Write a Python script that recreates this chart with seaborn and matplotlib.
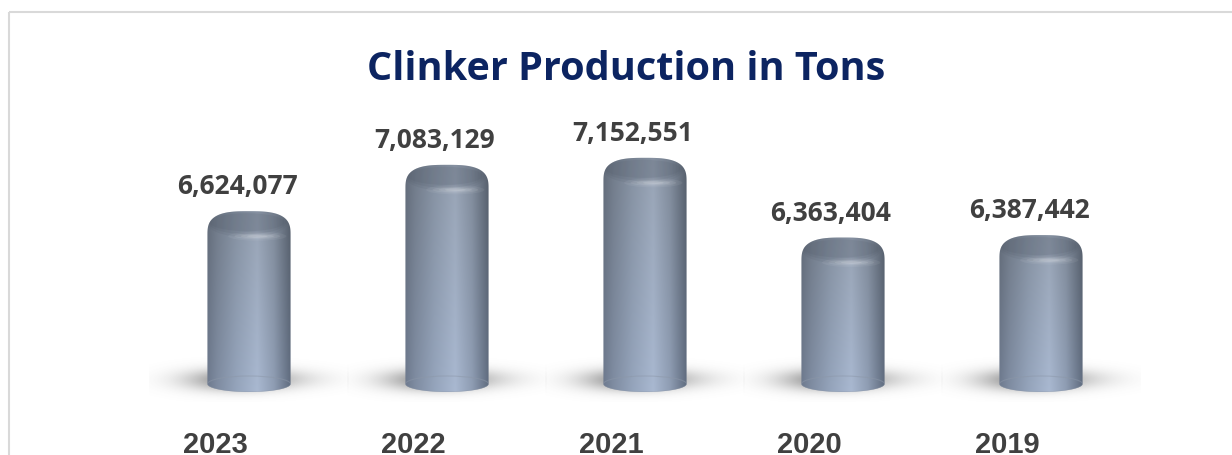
import numpy as np
import matplotlib
matplotlib.use("Agg")
import matplotlib.pyplot as plt
import matplotlib.transforms as mtransforms
from matplotlib.path import Path
from matplotlib.patches import PathPatch, Ellipse
from matplotlib.colors import to_rgb
import seaborn as sns
import pandas as pd

# ---- data ----
years = ["2023", "2022", "2021", "2020", "2019"]
values = [6624077, 7083129, 7152551, 6363404, 6387442]
value_labels = ["6,624,077", "7,083,129", "7,152,551", "6,363,404", "6,387,442"]
title = "Clinker Production in Tons"

W, H = 1232, 456
sns.set_style("white")
plt.rcParams["font.family"] = ["Open Sans", "DejaVu Sans"]

fig = plt.figure(figsize=(W / 100, H / 100), dpi=100)
fig.patch.set_facecolor("white")

# overlay axes in pixel coordinates for the 3D cylinder rendering
ovl = fig.add_axes([0, 0, 1, 1], zorder=0)
ovl.set_xlim(0, W)
ovl.set_ylim(0, H)
ovl.axis("off")

# main seaborn axes
ax = fig.add_axes([150 / W, 63 / H, 990 / W, 280 / H], zorder=1)
ax.patch.set_alpha(0)
df = pd.DataFrame({"year": years, "value": values})
sns.barplot(data=df, x="year", y="value", order=years, ax=ax, width=0.42,
            color="#8d99aa")
y0 = 4.834e6
ax.set_ylim(y0, y0 + 280 / 101e-6)
ax.set_xlim(-0.5, len(years) - 0.5)
ax.axis("off")

# border
ovl.plot([9, 9], [0, H - 13], color="#d9d9d9", lw=1.5, solid_capstyle="butt")
ovl.plot([9, W], [H - 13, H - 13], color="#d9d9d9", lw=1.5, solid_capstyle="butt")


def grad_profile(n):
    stops = [0.0, 0.12, 0.35, 0.6, 0.8, 1.0]
    cols = ["#6e7887", "#7f8a9a", "#95a2b4", "#a9b6c9", "#8f9bac", "#606a78"]
    cols = np.array([to_rgb(c) for c in cols])
    t = np.linspace(0, 1, n)
    return np.stack([np.interp(t, stops, cols[:, k]) for k in range(3)], axis=1)


for p in ax.patches:
    p.set_visible(False)
    bx, bw, bh = p.get_x(), p.get_width(), p.get_height()
    (px0, pyb) = ax.transData.transform((bx, y0))
    (px1, pyt) = ax.transData.transform((bx + bw, bh))
    w = px1 - px0
    cx = (px0 + px1) / 2
    a = w / 2

    # soft shadow
    sx0, sx1 = cx - 100, cx + 100
    sy0, sy1 = pyb - 10, pyb + 45
    gx = np.linspace(sx0, sx1, 200)
    gy = np.linspace(sy0, sy1, 55)
    GX, GY = np.meshgrid(gx, gy)
    d1 = ((GX - (cx - 18)) / 48) ** 2 + ((GY - (pyb + 12)) / 11) ** 2
    d2 = ((GX - (cx + 22)) / 52) ** 2 + ((GY - (pyb + 13)) / 10) ** 2
    alpha = np.clip(0.55 * np.exp(-d1) + 0.25 * np.exp(-d2), 0, 0.6)
    img = np.zeros(GX.shape + (4,))
    img[..., :3] = 0.35
    img[..., 3] = alpha
    ovl.imshow(img, extent=(sx0, sx1, sy0, sy1), origin="lower",
               interpolation="bilinear", zorder=1, aspect="auto")

    # cylinder outline path
    rb = 8
    ycb = pyb + rb
    bdome = 24
    ycd = pyt - bdome
    n = 3.0
    t1 = np.linspace(np.pi, 2 * np.pi, 60)
    xs1 = cx + a * np.cos(t1)
    ys1 = ycb + rb * np.sin(t1)
    t2 = np.linspace(0, np.pi, 80)
    c, s = np.cos(t2), np.sin(t2)
    xs2 = cx + a * np.sign(c) * np.abs(c) ** (2 / n)
    ys2 = ycd + bdome * np.abs(s) ** (2 / n)
    xs = np.concatenate([xs1, xs2])
    ys = np.concatenate([ys1, ys2])
    verts = np.column_stack([xs, ys])
    path = Path(np.vstack([verts, verts[:1]]),
                [Path.MOVETO] + [Path.LINETO] * (len(verts) - 1) + [Path.CLOSEPOLY])
    clip = PathPatch(path, facecolor="none", edgecolor="none",
                     transform=ovl.transData)
    ovl.add_patch(clip)

    # gradient body
    nx, ny = 120, 60
    prof = grad_profile(nx)
    vy = np.linspace(1.0, 0.9, ny)[:, None, None]
    body = np.clip(prof[None, :, :] * vy, 0, 1)
    tint = np.linspace(0.03, 0.0, ny)[:, None, None] * np.array([0.0, 0.3, 1.0])[None, None, :]
    body = np.clip(body + tint, 0, 1)
    im = ovl.imshow(body, extent=(px0, px1, pyb, pyt), origin="lower",
                    interpolation="bilinear", zorder=2, aspect="auto")
    im.set_clip_path(clip)

    # top face (darker), soft layered
    for k, (hh, al) in enumerate([(30, 0.12), (24, 0.14), (18, 0.14)]):
        top = Ellipse((cx - 2, pyt - 11), w * (0.98 - 0.04 * k), hh,
                      facecolor="#4f5866", alpha=al, edgecolor="none", zorder=3)
        ovl.add_patch(top)
        top.set_clip_path(clip)
    # soft highlight under the rim
    for ww, hh, al in [(0.7, 9, 0.06), (0.55, 6, 0.08), (0.4, 4, 0.1), (0.25, 2.5, 0.12)]:
        hl = Ellipse((cx + 0.1 * w, pyt - 25), w * ww, hh, facecolor="white",
                     alpha=al, edgecolor="none", zorder=4)
        ovl.add_patch(hl)
        hl.set_clip_path(clip)
    # bottom rim subtle edge
    rim = Ellipse((cx, ycb), w, 2 * rb, facecolor="none", edgecolor="#8c97a8",
                  lw=0.8, alpha=0.5, zorder=4)
    ovl.add_patch(rim)
    rim.set_clip_path(clip)

# value labels above bars
for i, p in enumerate(ax.patches):
    tr = mtransforms.offset_copy(ax.transData, fig=fig, x=-12, y=18, units="dots")
    ax.text(p.get_x() + p.get_width() / 2, p.get_height(), value_labels[i],
            transform=tr, ha="center", va="baseline", fontsize=19,
            fontweight="bold", color="#404040", family=["Open Sans", "DejaVu Sans"])

# year labels
xtr = mtransforms.blended_transform_factory(ax.transData, fig.transFigure)
for i, yr in enumerate(years):
    tr = mtransforms.offset_copy(xtr, fig=fig, x=-34, y=0, units="dots")
    ax.text(i, 3 / H, yr, transform=tr, ha="center", va="baseline",
            fontsize=21, fontweight="bold", color="#404040",
            family=["Liberation Sans", "DejaVu Sans"])

fig.text(626 / W, (H - 80) / H, title, ha="center", va="baseline",
         fontsize=28.5, fontweight="bold", color="#0c2461",
         family=["Open Sans", "DejaVu Sans"])

fig.savefig("out.png", dpi=100)
